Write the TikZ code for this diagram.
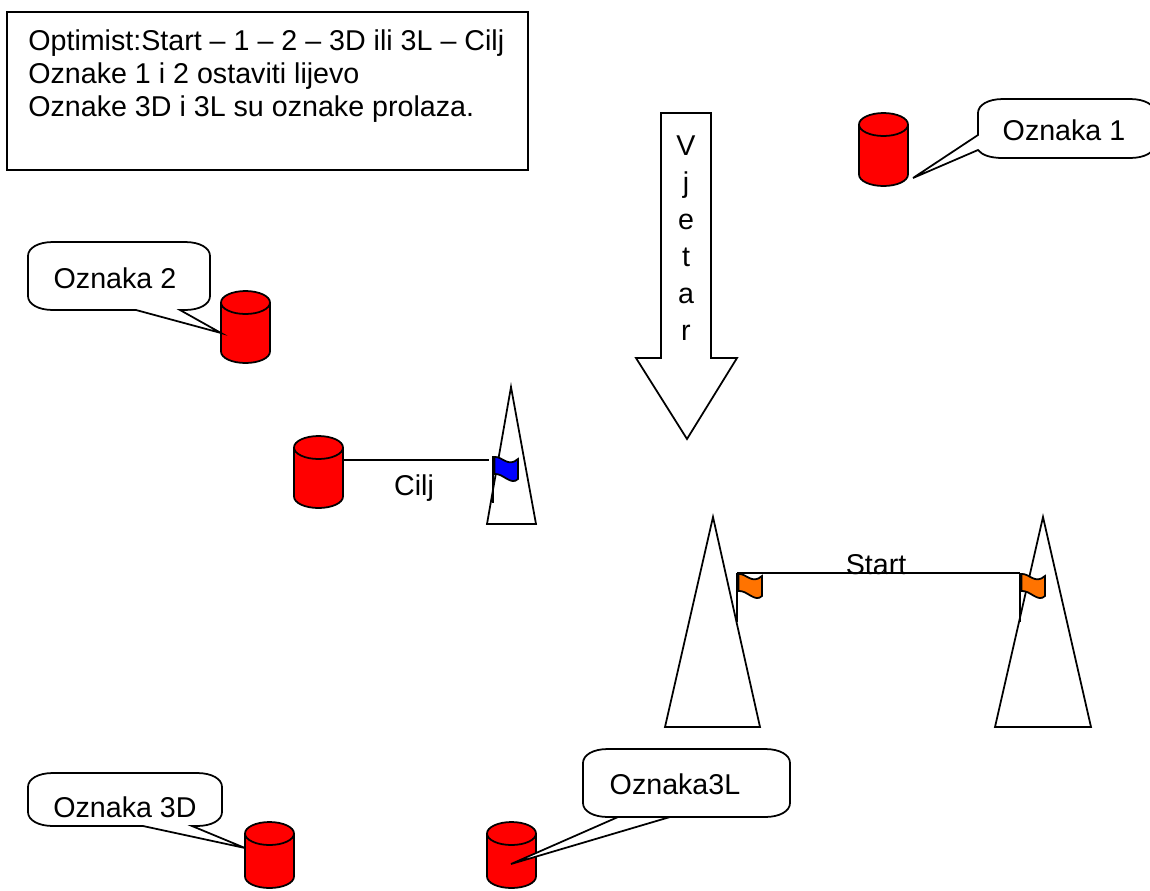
\documentclass[tikz,border=0pt]{standalone}
\usepackage{fontspec}
\setmainfont{Liberation Sans}

\tikzset{
  natpis/.style={font=\fontsize{16.3}{19}\selectfont, inner sep=0pt},
  oblak/.style={draw, fill=white},
  crta/.style={line width=1pt}
}

\newcommand{\oznaka}[4]{
  \draw[crta, fill=red] ({#1-24.5},{#2+11.5}) -- ({#1-24.5},{#3-11.5})
    .. controls ({#1-24.5},{#3-5}) and ({#1-13.5},#3) .. (#1,#3)
    .. controls ({#1+13.5},#3) and ({#1+24.5},{#3-5}) .. ({#1+24.5},{#3-11.5})
    -- ({#1+24.5},{#2+11.5});
  \draw[crta, fill=red] (#1,{#2+11.5}) ellipse [x radius=24.5, y radius=11.5];
  \coordinate (#4) at ({#1+24.5},{#2+24});
}

\newcommand{\oblacic}[7]{
  \draw[oblak, crta] ({#1+25},#2) -- ({#3-25},#2)
    .. controls ({#3-10},#2) and (#3,{#2+6}) .. (#3,{#2+14}) -- (#3,{#4-14})
    .. controls (#3,{#4-6}) and ({#3-10},#4) .. ({#3-25},#4)
    -- (#7,#4) -- #6 -- (#5,#4) -- ({#1+25},#4)
    .. controls ({#1+10},#4) and (#1,{#4-6}) .. (#1,{#4-14}) -- (#1,{#2+14})
    .. controls (#1,{#2+6}) and ({#1+10},#2) .. ({#1+25},#2) -- cycle;
}

\newcommand{\zastavica}[4]{
  \draw[crta, fill=#3] ({#1+1.5},{#2+1})
    .. controls ({#1+9},#2) and ({#1+15},{#2+12}) .. ({#1+25},{#2+3})
    -- ({#1+25},{#2+23})
    .. controls ({#1+18},{#2+30}) and ({#1+10},{#2+17}) .. ({#1+1.5},{#2+18}) -- cycle;
  \draw[crta] (#1,#2) -- (#1,{#2+#4});
}

\begin{document}
\begin{tikzpicture}[x=0.02cm, y=-0.02cm]
\useasboundingbox (0,0) rectangle (1150,890);

\draw[crta] (7,12) rectangle (528,170);
\node[natpis, anchor=north west, align=left] (opis) at (28,29) {Optimist:Start -- 1 -- 2 -- 3D ili 3L -- Cilj\\Oznake 1 i 2 ostaviti lijevo\\Oznake 3D i 3L su oznake prolaza.};

\draw[crta] (661,113) -- (711,113) -- (711,358) -- (737,358) -- (687,439) -- (636,358) -- (661,358) -- cycle;
\node[natpis, align=center, font=\fontsize{16.3}{21}\selectfont] (vjetar) at (686,238) {V\\j\\e\\t\\a\\r};

\oznaka{883.5}{113}{186}{ozn1}
\oznaka{245.5}{291}{363}{ozn2}
\oznaka{318.5}{436}{508}{ozncilj}
\oznaka{269.5}{822}{888}{ozn3d}
\oznaka{511.5}{822}{888}{ozn3l}

\draw[crta] (511,387) -- (536,524) -- (487,524) -- cycle;
\draw[crta] (713,517) -- (760,727) -- (665,727) -- cycle;
\draw[crta] (1043,517) -- (1091,727) -- (995,727) -- cycle;

\coordinate (ciljkraj) at (489,460);
\draw[crta] (ozncilj) -- (ciljkraj);
\node[natpis] (cilj) at (414,488) {Cilj};
\zastavica{493}{456}{blue}{47}

\coordinate (startL) at (737,573);
\coordinate (startD) at (1020,573);
\draw[crta] (startL) -- (startD);
\node[natpis] (start) at (876,565) {Start};
\zastavica{737}{573}{orange!90!red}{49}
\zastavica{1020}{573}{orange!90!red}{49}

\draw[oblak, crta] (1003,99) -- (1130,99)
  .. controls (1145,99) and (1155,105) .. (1155,113) -- (1155,144)
  .. controls (1155,152) and (1145,158) .. (1130,158) -- (1003,158)
  .. controls (990,158) and (982,155) .. (978,150) -- (913,178) -- (978,135) -- (978,113)
  .. controls (978,105) and (988,99) .. (1003,99) -- cycle;
\node[natpis] (tekst1) at (1064,130) {Oznaka 1};

\oblacic{28}{242}{210}{310}{136}{(221,333)}{180}
\node[natpis] (tekst2) at (115,278) {Oznaka 2};

\oblacic{28}{773}{222}{826}{143}{(245,848)}{192}
\node[natpis] (tekst3d) at (125,807) {Oznaka 3D};

\oblacic{583}{749}{790}{817}{670}{(511,864)}{618}
\node[natpis] (tekst3l) at (675,784) {Oznaka3L};

\end{tikzpicture}
\end{document}
